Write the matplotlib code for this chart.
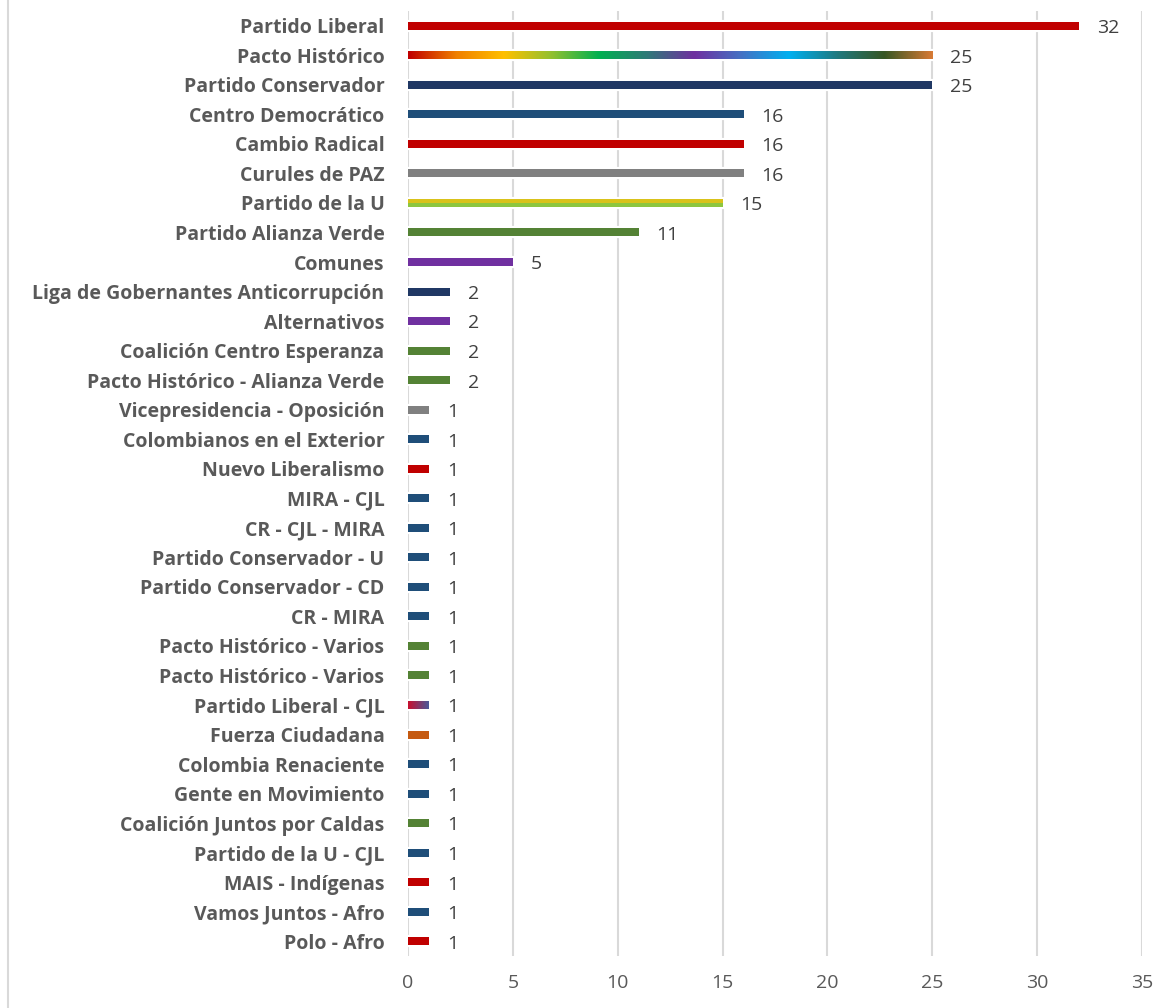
import numpy as np
import matplotlib.pyplot as plt
from matplotlib.colors import LinearSegmentedColormap
from matplotlib.lines import Line2D

plt.rcParams['font.family'] = ['Open Sans', 'DejaVu Sans']

# Data
parties = ['Partido Liberal', 'Pacto Histórico', 'Partido Conservador', 'Centro Democrático',
           'Cambio Radical', 'Curules de PAZ', 'Partido de la U', 'Partido Alianza Verde',
           'Comunes', 'Liga de Gobernantes Anticorrupción', 'Alternativos',
           'Coalición Centro Esperanza', 'Pacto Histórico - Alianza Verde',
           'Vicepresidencia - Oposición', 'Colombianos en el Exterior', 'Nuevo Liberalismo',
           'MIRA - CJL', 'CR - CJL - MIRA', 'Partido Conservador - U', 'Partido Conservador - CD',
           'CR - MIRA', 'Pacto Histórico - Varios', 'Pacto Histórico - Varios',
           'Partido Liberal - CJL', 'Fuerza Ciudadana', 'Colombia Renaciente',
           'Gente en Movimiento', 'Coalición Juntos por Caldas', 'Partido de la U - CJL',
           'MAIS - Indígenas', 'Vamos Juntos - Afro', 'Polo - Afro']
seats = [32, 25, 25, 16, 16, 16, 15, 11, 5, 2, 2, 2, 2, 1, 1, 1, 1, 1, 1, 1, 1, 1, 1,
         1, 1, 1, 1, 1, 1, 1, 1, 1]

RED, NAVY, BLUE, GREY = '#C00000', '#203864', '#1F4E79', '#808080'
GREEN, PURPLE, ORANGE = '#548235', '#7030A0', '#C55A11'
colors = [RED, None, NAVY, BLUE, RED, GREY, None, GREEN, PURPLE, NAVY, PURPLE, GREEN, GREEN,
          GREY, BLUE, RED, BLUE, BLUE, BLUE, BLUE, BLUE, GREEN, GREEN, None, ORANGE, BLUE,
          BLUE, GREEN, BLUE, RED, BLUE, RED]

# gradient fills for the multi-colour bars
gradients = {
    1: ('h', ['#C00000', '#F08000', '#FFC000', '#92C030', '#00B050', '#2E7A78', '#7030A0',
              '#4472C4', '#00B0F0', '#1F7A80', '#375623', '#D67A35']),
    6: ('v', ['#8DC63F', '#D9C21A']),
    23: ('h', ['#C8102E', '#4A5A9A']),
}

fig = plt.figure(figsize=(11.74, 10.08), dpi=100)
ax = fig.add_axes([408 / 1174, 52 / 1008, 734 / 1174, 945 / 1008])

y = np.arange(len(parties))
h = 0.27

# white halo behind bars (interrupts gridlines like the original)
ax.barh(y, seats, height=h, color='white', edgecolor='white', linewidth=3, zorder=2)
bars = ax.barh(y, seats, height=h, color=[c if c else 'none' for c in colors],
               edgecolor='none', zorder=3)

for i, (kind, cols) in gradients.items():
    cmap = LinearSegmentedColormap.from_list('g%d' % i, cols)
    if kind == 'h':
        img = np.linspace(0, 1, 256).reshape(1, -1)
        interp = 'bilinear'
    else:
        img = np.array([1.0, 1.0, 0.0, 0.0]).reshape(-1, 1)  # yellow top, green bottom
        interp = 'nearest'
    im = ax.imshow(img, cmap=cmap, aspect='auto', origin='upper', interpolation=interp,
                   extent=(0, seats[i], i + h / 2, i - h / 2), zorder=3)
    im.set_clip_path(bars[i])

for yi, v in zip(y, seats):
    ax.text(v + 0.85, yi + 0.08, str(v), va='center', ha='left', fontsize=14,
            color='#404040', zorder=4)

ax.set_xlim(0, 35)
ax.set_ylim(len(parties) - 0.5, -0.5)
ax.set_xticks(range(0, 36, 5))
ax.set_yticks(y)
ax.set_yticklabels(parties, fontsize=14, fontweight='bold', color='#595959')
ax.tick_params(axis='y', length=0, pad=17)
ax.tick_params(axis='x', length=0, pad=13, labelsize=14, labelcolor='#595959')
ax.grid(axis='x', color='#D9D9D9', linewidth=1.5)
ax.set_axisbelow(True)
for s in ax.spines.values():
    s.set_visible(False)

fig.add_artist(Line2D([8 / 1174, 8 / 1174], [0, 1], color='#D9D9D9', linewidth=1.5,
                      transform=fig.transFigure))

fig.savefig('out.png', dpi=100)
